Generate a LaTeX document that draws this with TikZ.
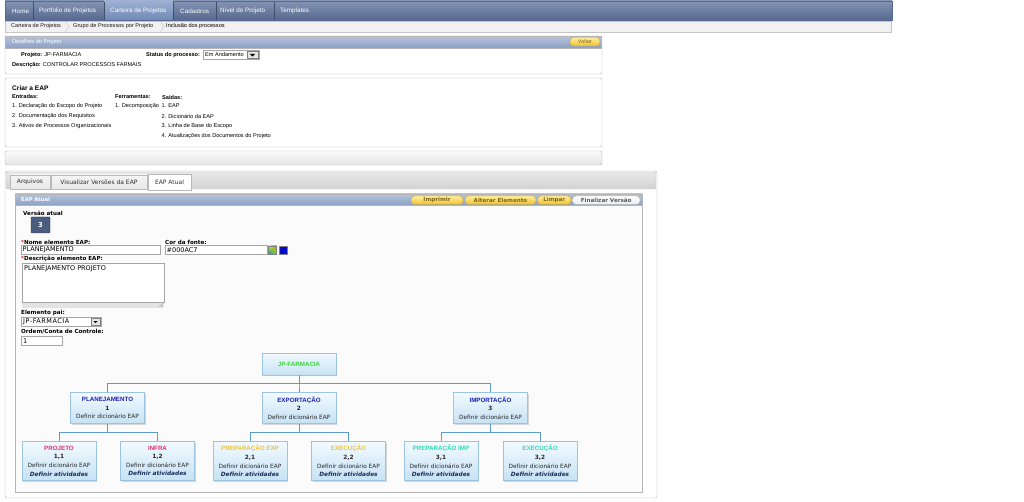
\documentclass[tikz,border=0pt]{standalone}
\usepackage{fontspec}
\setmainfont{Liberation Sans}
\newfontfamily\verd{DejaVu Sans}[ItalicFont={DejaVu Sans Oblique},BoldItalicFont={DejaVu Sans Bold Oblique}]
\usetikzlibrary{shadows,shadings}

\definecolor{navtop}{HTML}{8393B3}
\definecolor{navbot}{HTML}{56698E}
\definecolor{navacttop}{HTML}{9DB0D3}
\definecolor{navactbot}{HTML}{7189B6}
\definecolor{hdrtop}{HTML}{B4C3DB}
\definecolor{hdrbot}{HTML}{8CA0C4}
\definecolor{panelline}{HTML}{B5B5B5}
\definecolor{crumbgray}{HTML}{F1F1F1}
\definecolor{btntop}{HTML}{FFEE9E}
\definecolor{btnbot}{HTML}{F1C02A}
\definecolor{btnline}{HTML}{C9A43C}
\definecolor{btntext}{HTML}{7E6418}
\definecolor{boxtop}{HTML}{F2FAFF}
\definecolor{boxbot}{HTML}{C6E2F4}
\definecolor{boxline}{HTML}{9CC4E0}
\definecolor{treeline}{HTML}{5E9CC8}
\definecolor{rootgreen}{HTML}{3AD53A}
\definecolor{lvlblue}{HTML}{1E1EB2}
\definecolor{eappink}{HTML}{E3306E}
\definecolor{eapgold}{HTML}{EDC243}
\definecolor{eapteal}{HTML}{30DEB0}
\definecolor{versbox}{HTML}{4B5D7E}
\definecolor{reqred}{HTML}{E02020}
\definecolor{fontblue}{HTML}{000AC7}
\definecolor{ativnavy}{HTML}{1C2C5C}

\newcommand{\fsz}[1]{\fontsize{#1}{#1}\selectfont}
\newcommand{\tsz}[1]{\fontsize{#1}{8.6}\selectfont}
\newcommand{\eapname}[2]{{\rmfamily\bfseries\tsz{6.2}\color{#1}#2}}
\newcommand{\eapativ}{{\bfseries\itshape\color{ativnavy}Definir atividades}}

\tikzset{
  txt/.style={anchor=west, inner sep=0pt, font=\fsz{5.6}},
  navtxt/.style={txt, text=white, font=\fsz{6.3}},
  panel/.style={draw=panelline, fill=white, rounded corners=2pt},
  hdr/.style={draw=panelline, top color=hdrtop, bottom color=hdrbot},
  hdrtxt/.style={txt, text=white},
  inbox/.style={draw=gray!70, fill=white},
  lab/.style={txt, font=\verd\bfseries\fsz{5.6}},
  intxt/.style={txt, font=\verd\fsz{6.5}},
  btn/.style={draw=btnline, top color=btntop, bottom color=btnbot, rounded corners=3.5pt},
  btntxt/.style={font=\verd\bfseries\fsz{5.6}, text=btntext, inner sep=0pt},
  tab/.style={draw=gray!55, top color=gray!8, bottom color=gray!18},
  tabtxt/.style={font=\verd\fsz{6}, text=gray!35!black, inner sep=0pt},
  eapbox/.style={draw=boxline, top color=boxtop, bottom color=boxbot,
    minimum width=74pt, inner sep=1pt, align=center, text=black!85,
    font=\verd\tsz{5.8}, drop shadow={shadow xshift=1pt, shadow yshift=-1pt, opacity=.3}},
  conn/.style={draw=treeline, line width=.8pt},
}

\begin{document}
\begin{tikzpicture}[x=1pt, y=-1pt]
  \useasboundingbox[fill=white] (0,0) rectangle (1024,502);

  % Draw the menu bar
  \draw[top color=navtop, bottom color=navbot, draw=navbot] (5,1) rectangle (892,20);
  \fill[top color=navacttop, bottom color=navactbot] (104,1) rectangle (173,20);
  \foreach \x in {33,104,173,216,274}
    \draw[navbot!75!black] (\x,2) -- (\x,20);
  \node[navtxt] (home) at (12,11) {Home};
  \node[navtxt] (portfolio) at (39,11) {Portfolio de Projetos};
  \node[navtxt] (carteira) at (110,11) {Carteira de Projetos};
  \node[navtxt] (cadastros) at (180,11) {Cadastros};
  \node[navtxt] (nivel) at (220,11) {Nível do Projeto};
  \node[navtxt] (templates) at (280,11) {Templates};

  % Draw the breadcrumb
  \draw[fill=crumbgray, draw=gray!45] (5,21) rectangle (891,32);
  \node[txt, text=gray!20!black] (crumbA) at (11,26.5) {Carteira de Projetos};
  \draw[gray!45] (65,21) -- (69,26.5) -- (65,32);
  \node[txt, text=gray!20!black] (crumbB) at (73,26.5) {Grupo de Processos por Projeto};
  \draw[gray!45] (160,21) -- (164,26.5) -- (160,32);
  \node[txt, text=black] (crumbC) at (166,26.5) {Inclusão dos processos};

  % Draw the project details panel
  \draw[panel] (5,36) rectangle (602,74);
  \draw[hdr] (5.5,36.5) rectangle (601.5,48);
  \node[hdrtxt] (dettitle) at (12,42) {Detalhes do Projeto};
  \draw[btn] (570,37.5) rectangle (600,46);
  \node[inner sep=0pt, font=\fsz{5.5}, text=btntext] (voltar) at (585,41.8) {Voltar};
  \node[txt] (projlbl) at (21,55) {\textbf{Projeto:} JP-FARMACIA};
  \node[txt] (statuslbl) at (146,55) {\textbf{Status do processo:}};
  \draw[inbox] (203,50.5) rectangle (259,59.5);
  \node[txt] (statusval) at (205,55) {Em Andamento};
  \draw[fill=gray!20, draw=gray] (247,51.5) rectangle (258,58.5);
  \fill (249.8,54) -- (255.2,54) -- (252.5,56.5) -- cycle;
  \node[txt] (desclbl) at (12,65) {\textbf{Descrição:} CONTROLAR PROCESSOS FARMAIS};

  % Draw the Criar a EAP panel
  \draw[panel] (5,78) rectangle (602,147);
  \node[txt, font=\bfseries\fsz{6.6}] (criar) at (12,88) {Criar a EAP};
  \node[txt, font=\bfseries\fsz{5.6}] (entradas) at (12,97) {Entradas:};
  \node[txt, font=\bfseries\fsz{5.6}] (ferramentas) at (115,97) {Ferramentas:};
  \node[txt, font=\bfseries\fsz{5.6}] (saidas) at (162,97) {Saídas:};
  \node[txt] (entA) at (12,106) {1. Declaração do Escopo do Projeto};
  \node[txt] (entB) at (12,116) {2. Documentação dos Requisitos};
  \node[txt] (entC) at (12,126) {3. Ativos de Processos Organizacionais};
  \node[txt] (ferA) at (115,106) {1. Decomposição};
  \node[txt] (saiA) at (161.5,106) {1. EAP};
  \node[txt] (saiB) at (161.5,116) {2. Dicionário da EAP};
  \node[txt] (saiC) at (161.5,126) {3. Linha de Base do Escopo};
  \node[txt] (saiD) at (161.5,136) {4. Atualizações dos Documentos do Projeto};

  % Draw the empty bar
  \draw[draw=panelline, top color=gray!4, bottom color=gray!20, rounded corners=2pt] (5,151) rectangle (602,165);

  % Draw the tab container and the tabs
  \draw[panel] (5,171) rectangle (657,498);
  \draw[draw=gray!50, top color=gray!18, bottom color=gray!35, rounded corners=2pt] (6,172) rectangle (656,189);
  \draw[tab] (10,175) rectangle (50,189);
  \node[tabtxt] (tabarq) at (30,182) {Arquivos};
  \draw[tab] (51,175) rectangle (147,189);
  \node[tabtxt] (tabvers) at (99,182) {Visualizar Versões da EAP};
  \draw[draw=gray!55, fill=white] (148,174) rectangle (191,190);
  \node[tabtxt, text=black!80] (tabatual) at (169.5,182) {EAP Atual};

  % Draw the EAP Atual panel
  \draw[draw=panelline, fill=gray!3] (15,194) rectangle (642,492);
  \draw[hdr] (15,194) rectangle (642,205.5);
  \node[txt, font=\verd\bfseries\fsz{5.2}, text=white] (eaptitle) at (21,200) {EAP Atual};
  \draw[btn] (411,196) rectangle (463,204.5);
  \node[btntxt] (imprimir) at (437,200.2) {Imprimir};
  \draw[btn] (465,196) rectangle (536,204.5);
  \node[btntxt] (alterar) at (500.5,200.2) {Alterar Elemento};
  \draw[btn] (537.5,196) rectangle (571,204.5);
  \node[btntxt] (limpar) at (554.2,200.2) {Limpar};
  \draw[draw=gray!60, top color=white, bottom color=gray!15, rounded corners=3.5pt] (572.5,196) rectangle (640,204.5);
  \node[btntxt, text=gray!70!black] (finalizar) at (606.2,200.2) {Finalizar Versão};

  % Draw the form
  \node[lab] (verslbl) at (23,213) {Versão atual};
  \draw[fill=versbox, draw=versbox!60!black, rounded corners=1pt] (31,217) rectangle (50,233);
  \node[font=\verd\bfseries\fsz{6.8}, text=white] (versnum) at (40.5,225) {3};
  \node[lab] (nomelbl) at (21,242) {\textcolor{reqred}{*}Nome elemento EAP:};
  \draw[inbox] (21,245.5) rectangle (160,254.5);
  \node[intxt] (nomeval) at (22.5,250.2) {PLANEJAMENTO};
  \node[lab] (corlbl) at (165,242) {Cor da fonte:};
  \draw[inbox] (165,245.5) rectangle (267,254.5);
  \node[intxt] (corval) at (166.5,250.2) {\#000AC7};
  \shade[upper left=yellow!70!green, upper right=orange, lower left=blue!50!cyan, lower right=green!60!yellow] (268.5,246) rectangle (276.5,254);
  \draw[gray] (268.5,246) rectangle (276.5,254);
  \draw[fill=fontblue, draw=gray] (279,246) rectangle (287,254);
  \node[lab] (desclbl2) at (21,259) {\textcolor{reqred}{*}Descrição elemento EAP:};
  \draw[inbox] (22,263) rectangle (164,302);
  \node[intxt] (descval) at (24,268.5) {PLANEJAMENTO PROJETO};
  \fill[gray!22] (22,302.5) rectangle (164,307.5);
  \draw[gray!60] (159,307) -- (163,303) (161,307) -- (163,305);
  \node[lab] (pailbl) at (21,313) {Elemento pai:};
  \draw[inbox] (21,317) rectangle (101,326);
  \node[intxt] (paival) at (23,321.7) {\addfontfeatures{LetterSpace=8}JP-FARMACIA};
  \draw[fill=gray!20, draw=gray] (91,318) rectangle (100,325);
  \fill (93.3,321) -- (97.7,321) -- (95.5,323.2) -- cycle;
  \node[lab] (ordemlbl) at (21,332) {Ordem/Conta de Controle:};
  \draw[inbox] (21,336.5) rectangle (62,345);
  \node[intxt] (ordemval) at (23,341) {1};

  % Draw the EAP tree
  \coordinate (busA) at (0,383);
  \coordinate (busB) at (0,432);
  \node[eapbox, minimum height=22pt] (root) at (299,364) {\eapname{rootgreen}{JP-FARMACIA}};
  \node[eapbox, minimum height=31pt] (plan) at (107.5,408) {\eapname{lvlblue}{PLANEJAMENTO}\\\textbf{1}\\Definir dicionário EAP};
  \node[eapbox, minimum height=31pt] (expo) at (299,408) {\eapname{lvlblue}{EXPORTAÇÃO}\\\textbf{2}\\Definir dicionário EAP};
  \node[eapbox, minimum height=31pt] (impo) at (490.5,408) {\eapname{lvlblue}{IMPORTAÇÃO}\\\textbf{3}\\Definir dicionário EAP};
  \node[eapbox, minimum height=39pt] (proj) at (59,461) {\eapname{eappink}{PROJETO}\\\textbf{1,1}\\Definir dicionário EAP\\\eapativ};
  \node[eapbox, minimum height=39pt] (infra) at (157.5,461) {\eapname{eappink}{INFRA}\\\textbf{1,2}\\Definir dicionário EAP\\\eapativ};
  \node[eapbox, minimum height=39pt] (prepexp) at (250,461) {\eapname{eapgold}{PREPARAÇÃO EXP}\\\textbf{2,1}\\Definir dicionário EAP\\\eapativ};
  \node[eapbox, minimum height=39pt] (execexp) at (348.5,461) {\eapname{eapgold}{EXECUÇÃO}\\\textbf{2,2}\\Definir dicionário EAP\\\eapativ};
  \node[eapbox, minimum height=39pt] (prepimp) at (441,461) {\eapname{eapteal}{PREPARAÇÃO IMP}\\\textbf{3,1}\\Definir dicionário EAP\\\eapativ};
  \node[eapbox, minimum height=39pt] (execimp) at (540,461) {\eapname{eapteal}{EXECUÇÃO}\\\textbf{3,2}\\Definir dicionário EAP\\\eapativ};

  % Connect the tree
  \foreach \c in {plan,expo,impo}
    \draw[conn] (root.south) -- (root.south |- busA) -| (\c.north);
  \foreach \p/\c in {plan/proj,plan/infra,expo/prepexp,expo/execexp,impo/prepimp,impo/execimp}
    \draw[conn] (\p.south) -- (\p.south |- busB) -| (\c.north);
\end{tikzpicture}
\end{document}
